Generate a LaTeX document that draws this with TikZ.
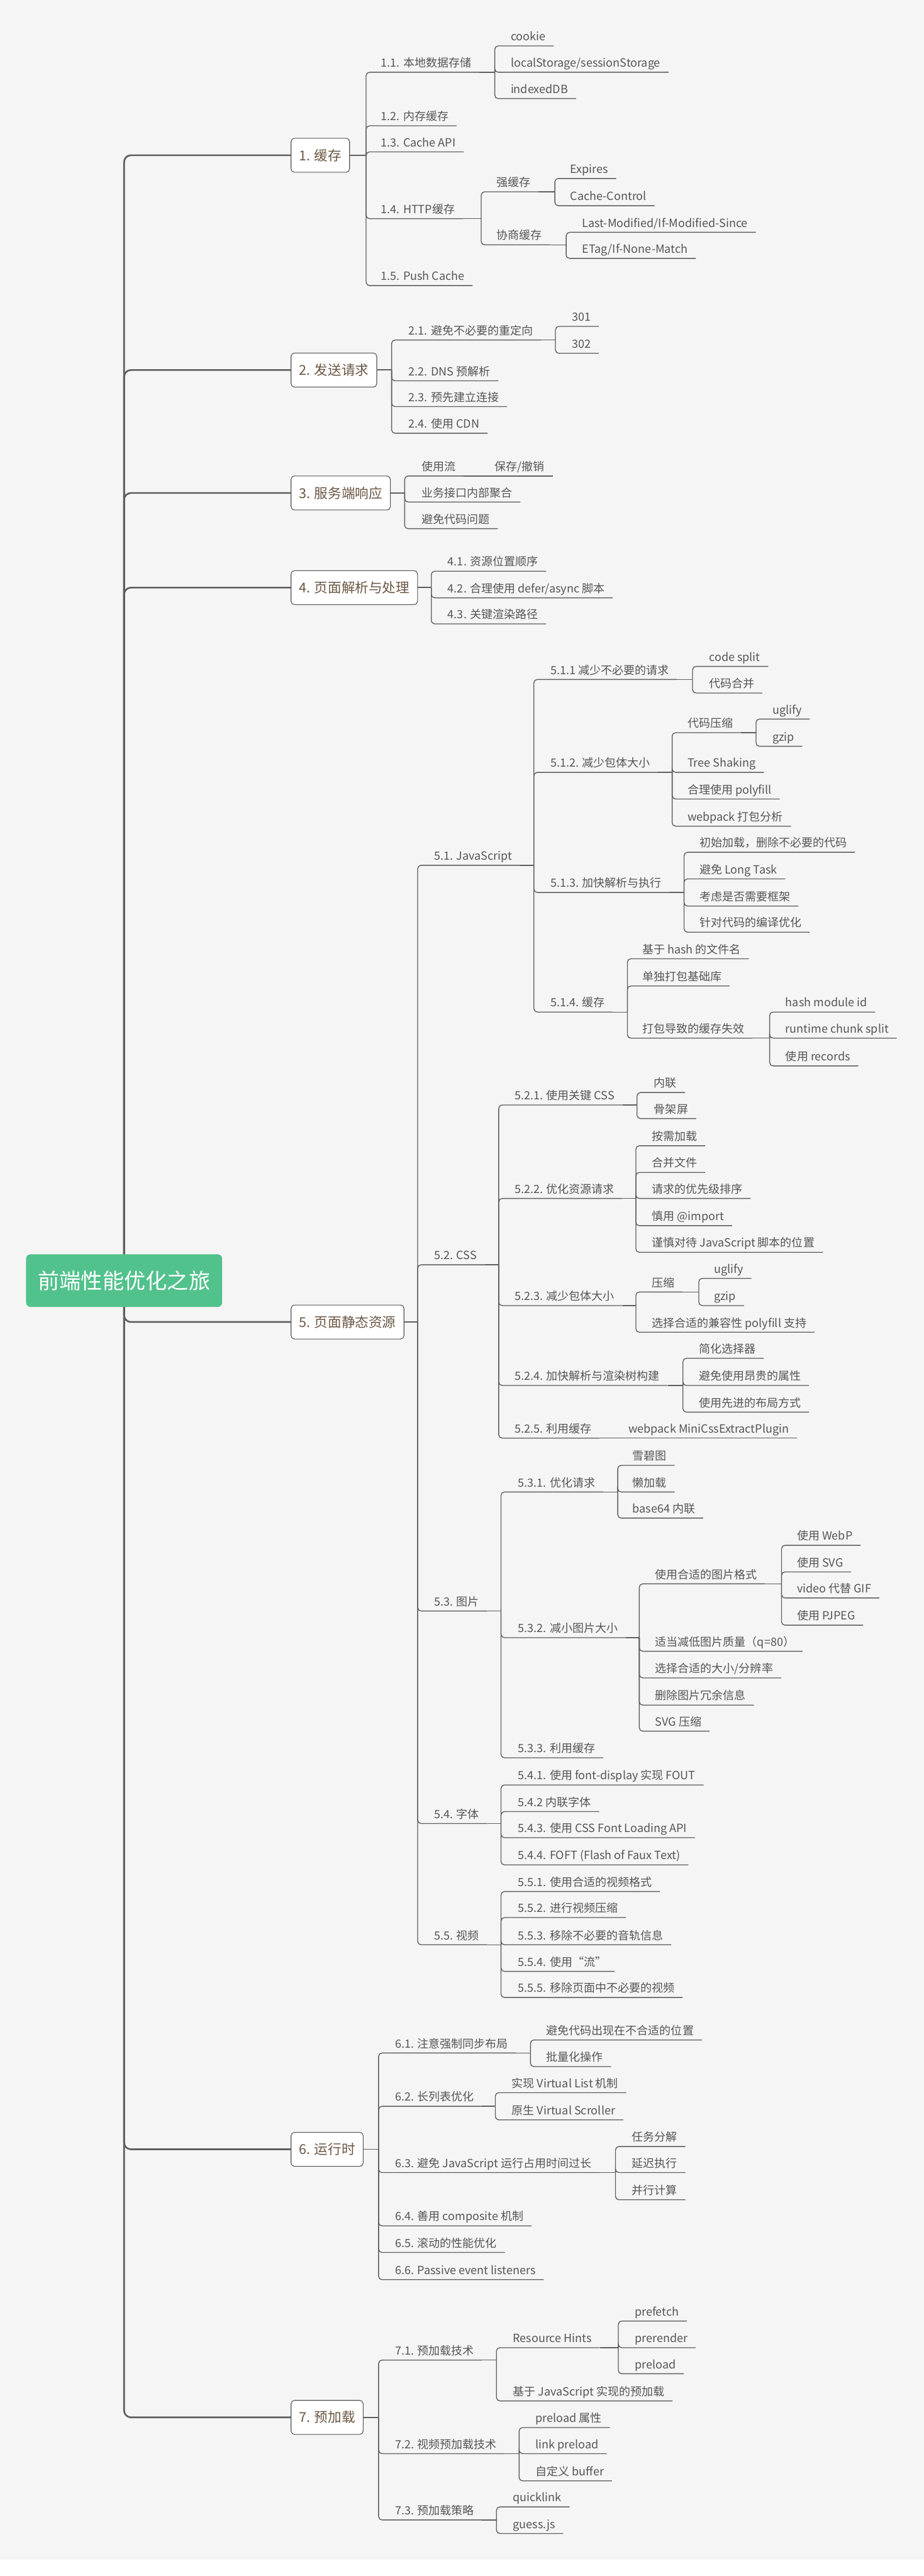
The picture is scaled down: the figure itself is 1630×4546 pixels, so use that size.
\documentclass[tikz,border=0pt]{standalone}
\usepackage{fontspec}
\setmainfont{Noto Sans CJK SC}
\usetikzlibrary{backgrounds}

\definecolor{bggray}{HTML}{F5F5F5}
\definecolor{linegray}{HTML}{5E5E5E}
\definecolor{inkgray}{HTML}{555555}
\definecolor{boxline}{HTML}{555555}
\definecolor{boxink}{HTML}{6B5744}
\definecolor{rootgreen}{HTML}{52C28C}

\newcommand{\leaffont}{\fontsize{20}{24}\selectfont}
\newcommand{\topicfont}{\fontsize{24}{28}\selectfont}
\newcommand{\rootfont}{\fontsize{38}{44}\selectfont}

\begin{document}
\begin{tikzpicture}[
x=1pt, y=-1pt, % 1 unit = 1 pixel of the sketch, y grows downwards
leaf/.style={anchor=south west, xshift=-14pt, inner xsep=14pt, inner ysep=3pt, text height=15pt, text depth=6pt, font=\leaffont, text=inkgray},
topic/.style={draw=boxline, line width=1.2pt, fill=white, rounded corners=6pt, anchor=west, inner xsep=14pt, minimum height=60pt, font=\topicfont, text=boxink},
root/.style={fill=rootgreen, rounded corners=8pt, text=white, font=\rootfont, minimum width=346pt, minimum height=93pt, inner sep=0pt},
edge/.style={draw=linegray, line width=1.5pt, rounded corners=6pt},
stub/.style={draw=linegray, line width=2pt},
trunk/.style={draw=linegray, line width=3pt, rounded corners=12pt}
]
\useasboundingbox (0,0) rectangle (1630,4546);
\begin{scope}[on background layer]
\fill[white] (0,0) rectangle (1630,4546);
\fill[bggray] (0,0) rectangle (1630,4517);
\end{scope}

% --- Root ---
\node[root] (root) at (219,2260) {前端性能优化之旅};

% --- 1. 缓存 ---
\node[topic] (b1) at (513,274) {1. 缓存};
\coordinate (s1) at (646,274);
\node[leaf] (n11) at (672,127.5) {1.1. 本地数据存储};
\coordinate (s11) at (873,127.5);
\node[leaf] (n111) at (901,81) {cookie};
\node[leaf] (n112) at (901,127.5) {localStorage/sessionStorage};
\node[leaf] (n113) at (901,174) {indexedDB};
\node[leaf] (n12) at (672,222) {1.2. 内存缓存};
\node[leaf] (n13) at (672,268) {1.3. Cache API};
\node[leaf] (n14) at (672,386) {1.4. HTTP缓存};
\coordinate (s14) at (849,386);
\node[leaf] (n141) at (876,338.5) {强缓存};
\coordinate (s141) at (979,338.5);
\node[leaf] (n1411) at (1006,315) {Expires};
\node[leaf] (n1412) at (1006,363) {Cache-Control};
\node[leaf] (n142) at (876,432) {协商缓存};
\coordinate (s142) at (999,432);
\node[leaf] (n1421) at (1027,410) {Last-Modified/If-Modified-Since};
\node[leaf] (n1422) at (1027,456) {ETag/If-None-Match};
\node[leaf] (n15) at (672,504) {1.5. Push Cache};

% --- 2. 发送请求 ---
\node[topic] (b2) at (513,653) {2. 发送请求};
\coordinate (s2) at (691,653);
\node[leaf] (n21) at (721,600) {2.1. 避免不必要的重定向};
\coordinate (s21) at (980,600);
\node[leaf] (n211) at (1009,576) {301};
\node[leaf] (n212) at (1009,623.5) {302};
\node[leaf] (n22) at (721,672) {2.2. DNS 预解析};
\node[leaf] (n23) at (721,717.5) {2.3. 预先建立连接};
\node[leaf] (n24) at (721,764.5) {2.4. 使用 CDN};

% --- 3. 服务端响应 ---
\node[topic] (b3) at (513,870) {3. 服务端响应};
\coordinate (s3) at (714,870);
\node[leaf] (n31) at (744,840) {使用流};
\node[leaf] (n311) at (873,840) {保存/撤销};
\node[leaf] (n32) at (744,886) {业务接口内部聚合};
\node[leaf] (n33) at (744,933) {避免代码问题};

% --- 4. 页面解析与处理 ---
\node[topic] (b4) at (513,1037) {4. 页面解析与处理};
\coordinate (s4) at (761,1037);
\node[leaf] (n41) at (790,1008) {4.1. 资源位置顺序};
\node[leaf] (n42) at (790,1055) {4.2. 合理使用 defer/async 脚本};
\node[leaf] (n43) at (790,1101) {4.3. 关键渲染路径};

% --- 5. 页面静态资源 ---
\node[topic] (b5) at (513,2333) {5. 页面静态资源};
\coordinate (s5) at (737,2333);

% 5.1 JavaScript
\node[leaf] (n51) at (766,1527) {5.1. JavaScript};
\coordinate (s51) at (942,1527);
\node[leaf] (n511) at (971,1199) {5.1.1 减少不必要的请求};
\coordinate (s511) at (1222,1199);
\node[leaf] (n5111) at (1251,1176) {code split};
\node[leaf] (n5112) at (1251,1223) {代码合并};
\node[leaf] (n512) at (971,1363) {5.1.2. 减少包体大小};
\coordinate (s512) at (1186,1363);
\node[leaf] (n5121) at (1213,1293) {代码压缩};
\coordinate (s5121) at (1334,1293);
\node[leaf] (n51211) at (1363,1269) {uglify};
\node[leaf] (n51212) at (1363,1317) {gzip};
\node[leaf] (n5122) at (1213,1363) {Tree Shaking};
\node[leaf] (n5123) at (1213,1410) {合理使用 polyfill};
\node[leaf] (n5124) at (1213,1458) {webpack 打包分析};
\node[leaf] (n513) at (971,1575) {5.1.3. 加快解析与执行};
\coordinate (s513) at (1207,1575);
\node[leaf] (n5131) at (1234,1504) {初始加载，删除不必要的代码};
\node[leaf] (n5132) at (1234,1551) {避免 Long Task};
\node[leaf] (n5133) at (1234,1599) {考虑是否需要框架};
\node[leaf] (n5134) at (1234,1645) {针对代码的编译优化};
\node[leaf] (n514) at (971,1786) {5.1.4. 缓存};
\coordinate (s514) at (1107,1786);
\node[leaf] (n5141) at (1133,1692) {基于 hash 的文件名};
\node[leaf] (n5142) at (1133,1740) {单独打包基础库};
\node[leaf] (n5143) at (1133,1832) {打包导致的缓存失效};
\coordinate (s5143) at (1358,1832);
\node[leaf] (n51431) at (1386,1786) {hash module id};
\node[leaf] (n51432) at (1386,1832) {runtime chunk split};
\node[leaf] (n51433) at (1386,1881) {使用 records};

% 5.2 CSS
\node[leaf] (n52) at (766,2232) {5.2. CSS};
\coordinate (s52) at (880,2232);
\node[leaf] (n521) at (908,1950) {5.2.1. 使用关键 CSS};
\coordinate (s521) at (1124,1950);
\node[leaf] (n5211) at (1154,1928) {内联};
\node[leaf] (n5212) at (1154,1974) {骨架屏};
\node[leaf] (n522) at (908,2115) {5.2.2. 优化资源请求};
\coordinate (s522) at (1122,2115);
\node[leaf] (n5221) at (1150,2022) {按需加载};
\node[leaf] (n5222) at (1150,2069) {合并文件};
\node[leaf] (n5223) at (1150,2115) {请求的优先级排序};
\node[leaf] (n5224) at (1150,2163) {慎用 @import};
\node[leaf] (n5225) at (1150,2210) {谨慎对待 JavaScript 脚本的位置};
\node[leaf] (n523) at (908,2304) {5.2.3. 减少包体大小};
\coordinate (s523) at (1122,2304);
\node[leaf] (n5231) at (1150,2280) {压缩};
\coordinate (s5231) at (1233,2280);
\node[leaf] (n52311) at (1260,2256) {uglify};
\node[leaf] (n52312) at (1260,2304) {gzip};
\node[leaf] (n5232) at (1150,2351) {选择合适的兼容性 polyfill 支持};
\node[leaf] (n524) at (908,2445) {5.2.4. 加快解析与渲染树构建};
\coordinate (s524) at (1205,2445);
\node[leaf] (n5241) at (1233,2397) {简化选择器};
\node[leaf] (n5242) at (1233,2445) {避免使用昂贵的属性};
\node[leaf] (n5243) at (1233,2492) {使用先进的布局方式};
\node[leaf] (n525) at (908,2538) {5.2.5. 利用缓存};
\node[leaf] (n5251) at (1109,2538) {webpack MiniCssExtractPlugin};

% 5.3 图片
\node[leaf] (n53) at (766,2843) {5.3. 图片};
\coordinate (s53) at (884,2843);
\node[leaf] (n531) at (914,2633) {5.3.1. 优化请求};
\coordinate (s531) at (1090,2633);
\node[leaf] (n5311) at (1116,2586) {雪碧图};
\node[leaf] (n5312) at (1116,2633) {懒加载};
\node[leaf] (n5313) at (1116,2679) {base64 内联};
\node[leaf] (n532) at (914,2890) {5.3.2. 减小图片大小};
\coordinate (s532) at (1128,2890);
\node[leaf] (n5321) at (1156,2795) {使用合适的图片格式};
\coordinate (s5321) at (1379,2795);
\node[leaf] (n53211) at (1406,2727) {使用 WebP};
\node[leaf] (n53212) at (1406,2774) {使用 SVG};
\node[leaf] (n53213) at (1406,2820) {video 代替 GIF};
\node[leaf] (n53214) at (1406,2868) {使用 PJPEG};
\node[leaf] (n5322) at (1156,2914) {适当减低图片质量（q=80）};
\node[leaf] (n5323) at (1156,2961) {选择合适的大小/分辨率};
\node[leaf] (n5324) at (1156,3009) {删除图片冗余信息};
\node[leaf] (n5325) at (1156,3055) {SVG 压缩};
\node[leaf] (n533) at (914,3102) {5.3.3. 利用缓存};

% 5.4 字体
\node[leaf] (n54) at (766,3218) {5.4. 字体};
\coordinate (s54) at (884,3218);
\node[leaf] (n541) at (914,3150) {5.4.1. 使用 font-display 实现 FOUT};
\node[leaf] (n542) at (914,3197) {5.4.2 内联字体};
\node[leaf] (n543) at (914,3243) {5.4.3. 使用 CSS Font Loading API};
\node[leaf] (n544) at (914,3291) {5.4.4. FOFT (Flash of Faux Text)};

% 5.5 视频
\node[leaf] (n55) at (766,3432) {5.5. 视频};
\coordinate (s55) at (884,3432);
\node[leaf] (n551) at (914,3338) {5.5.1. 使用合适的视频格式};
\node[leaf] (n552) at (914,3384) {5.5.2. 进行视频压缩};
\node[leaf] (n553) at (914,3432) {5.5.3. 移除不必要的音轨信息};
\node[leaf] (n554) at (914,3479) {5.5.4. 使用“流”};
\node[leaf] (n555) at (914,3525) {5.5.5. 移除页面中不必要的视频};

% --- 6. 运行时 ---
\node[topic] (b6) at (513,3793) {6. 运行时};
\coordinate (s6) at (668,3793);
\node[leaf] (n61) at (697,3623) {6.1. 注意强制同步布局};
\coordinate (s61) at (936,3623);
\node[leaf] (n611) at (964,3600) {避免代码出现在不合适的位置};
\node[leaf] (n612) at (964,3647) {批量化操作};
\node[leaf] (n62) at (697,3717) {6.2. 长列表优化};
\coordinate (s62) at (874,3717);
\node[leaf] (n621) at (903,3693) {实现 Virtual List 机制};
\node[leaf] (n622) at (903,3741) {原生 Virtual Scroller};
\node[leaf] (n63) at (697,3834) {6.3. 避免 JavaScript 运行占用时间过长};
\coordinate (s63) at (1086,3834);
\node[leaf] (n631) at (1115,3788) {任务分解};
\node[leaf] (n632) at (1115,3834) {延迟执行};
\node[leaf] (n633) at (1115,3882) {并行计算};
\node[leaf] (n64) at (697,3928) {6.4. 善用 composite 机制};
\node[leaf] (n65) at (697,3975) {6.5. 滚动的性能优化};
\node[leaf] (n66) at (697,4023) {6.6. Passive event listeners};

% --- 7. 预加载 ---
\node[topic] (b7) at (513,4266) {7. 预加载};
\coordinate (s7) at (668,4266);
\node[leaf] (n71) at (697,4165) {7.1. 预加载技术};
\coordinate (s71) at (876,4165);
\node[leaf] (n711) at (905,4143) {Resource Hints};
\coordinate (s711) at (1091,4143);
\node[leaf] (n7111) at (1120,4096) {prefetch};
\node[leaf] (n7112) at (1120,4143) {prerender};
\node[leaf] (n7113) at (1120,4189) {preload};
\node[leaf] (n712) at (905,4237) {基于 JavaScript 实现的预加载};
\node[leaf] (n72) at (697,4330) {7.2. 视频预加载技术};
\coordinate (s72) at (916,4330);
\node[leaf] (n721) at (945,4284) {preload 属性};
\node[leaf] (n722) at (945,4330) {link preload};
\node[leaf] (n723) at (945,4378) {自定义 buffer};
\node[leaf] (n73) at (697,4447) {7.3. 预加载策略};
\coordinate (s73) at (876,4447);
\node[leaf] (n731) at (905,4424) {quicklink};
\node[leaf] (n732) at (905,4471) {guess.js};

% --- Connectors (under the boxes) ---
\begin{scope}[on background layer]
\foreach \b in {b1,b2,b3,b4,b5,b6,b7} \draw[trunk] (root.center) |- (\b.west);

% 1
\draw[stub] (b1.east) -- (s1);
\foreach \c in {n11,n12,n13,n14,n15} \draw[edge] (s1) |- (\c.south east);
\draw[edge] (n11.south east) -- (s11);
\foreach \c in {n111,n112,n113} \draw[edge] (s11) |- (\c.south east);
\draw[edge] (n14.south east) -- (s14);
\foreach \c in {n141,n142} \draw[edge] (s14) |- (\c.south east);
\draw[edge] (n141.south east) -- (s141);
\foreach \c in {n1411,n1412} \draw[edge] (s141) |- (\c.south east);
\draw[edge] (n142.south east) -- (s142);
\foreach \c in {n1421,n1422} \draw[edge] (s142) |- (\c.south east);

% 2
\draw[stub] (b2.east) -- (s2);
\foreach \c in {n21,n22,n23,n24} \draw[edge] (s2) |- (\c.south east);
\draw[edge] (n21.south east) -- (s21);
\foreach \c in {n211,n212} \draw[edge] (s21) |- (\c.south east);

% 3
\draw[stub] (b3.east) -- (s3);
\foreach \c in {n31,n32,n33} \draw[edge] (s3) |- (\c.south east);
\draw[edge] (n31.south east) -- (n311.south east);

% 4
\draw[stub] (b4.east) -- (s4);
\foreach \c in {n41,n42,n43} \draw[edge] (s4) |- (\c.south east);

% 5
\draw[stub] (b5.east) -- (s5);
\foreach \c in {n51,n52,n53,n54,n55} \draw[edge] (s5) |- (\c.south east);
\draw[edge] (n51.south east) -- (s51);
\foreach \c in {n511,n512,n513,n514} \draw[edge] (s51) |- (\c.south east);
\draw[edge] (n511.south east) -- (s511);
\foreach \c in {n5111,n5112} \draw[edge] (s511) |- (\c.south east);
\draw[edge] (n512.south east) -- (s512);
\foreach \c in {n5121,n5122,n5123,n5124} \draw[edge] (s512) |- (\c.south east);
\draw[edge] (n5121.south east) -- (s5121);
\foreach \c in {n51211,n51212} \draw[edge] (s5121) |- (\c.south east);
\draw[edge] (n513.south east) -- (s513);
\foreach \c in {n5131,n5132,n5133,n5134} \draw[edge] (s513) |- (\c.south east);
\draw[edge] (n514.south east) -- (s514);
\foreach \c in {n5141,n5142,n5143} \draw[edge] (s514) |- (\c.south east);
\draw[edge] (n5143.south east) -- (s5143);
\foreach \c in {n51431,n51432,n51433} \draw[edge] (s5143) |- (\c.south east);

\draw[edge] (n52.south east) -- (s52);
\foreach \c in {n521,n522,n523,n524,n525} \draw[edge] (s52) |- (\c.south east);
\draw[edge] (n521.south east) -- (s521);
\foreach \c in {n5211,n5212} \draw[edge] (s521) |- (\c.south east);
\draw[edge] (n522.south east) -- (s522);
\foreach \c in {n5221,n5222,n5223,n5224,n5225} \draw[edge] (s522) |- (\c.south east);
\draw[edge] (n523.south east) -- (s523);
\foreach \c in {n5231,n5232} \draw[edge] (s523) |- (\c.south east);
\draw[edge] (n5231.south east) -- (s5231);
\foreach \c in {n52311,n52312} \draw[edge] (s5231) |- (\c.south east);
\draw[edge] (n524.south east) -- (s524);
\foreach \c in {n5241,n5242,n5243} \draw[edge] (s524) |- (\c.south east);
\draw[edge] (n525.south east) -- (n5251.south east);

\draw[edge] (n53.south east) -- (s53);
\foreach \c in {n531,n532,n533} \draw[edge] (s53) |- (\c.south east);
\draw[edge] (n531.south east) -- (s531);
\foreach \c in {n5311,n5312,n5313} \draw[edge] (s531) |- (\c.south east);
\draw[edge] (n532.south east) -- (s532);
\foreach \c in {n5321,n5322,n5323,n5324,n5325} \draw[edge] (s532) |- (\c.south east);
\draw[edge] (n5321.south east) -- (s5321);
\foreach \c in {n53211,n53212,n53213,n53214} \draw[edge] (s5321) |- (\c.south east);

\draw[edge] (n54.south east) -- (s54);
\foreach \c in {n541,n542,n543,n544} \draw[edge] (s54) |- (\c.south east);
\draw[edge] (n55.south east) -- (s55);
\foreach \c in {n551,n552,n553,n554,n555} \draw[edge] (s55) |- (\c.south east);

% 6
\draw[stub] (b6.east) -- (s6);
\foreach \c in {n61,n62,n63,n64,n65,n66} \draw[edge] (s6) |- (\c.south east);
\draw[edge] (n61.south east) -- (s61);
\foreach \c in {n611,n612} \draw[edge] (s61) |- (\c.south east);
\draw[edge] (n62.south east) -- (s62);
\foreach \c in {n621,n622} \draw[edge] (s62) |- (\c.south east);
\draw[edge] (n63.south east) -- (s63);
\foreach \c in {n631,n632,n633} \draw[edge] (s63) |- (\c.south east);

% 7
\draw[stub] (b7.east) -- (s7);
\foreach \c in {n71,n72,n73} \draw[edge] (s7) |- (\c.south east);
\draw[edge] (n71.south east) -- (s71);
\foreach \c in {n711,n712} \draw[edge] (s71) |- (\c.south east);
\draw[edge] (n711.south east) -- (s711);
\foreach \c in {n7111,n7112,n7113} \draw[edge] (s711) |- (\c.south east);
\draw[edge] (n72.south east) -- (s72);
\foreach \c in {n721,n722,n723} \draw[edge] (s72) |- (\c.south east);
\draw[edge] (n73.south east) -- (s73);
\foreach \c in {n731,n732} \draw[edge] (s73) |- (\c.south east);
\end{scope}

\end{tikzpicture}
\end{document}
